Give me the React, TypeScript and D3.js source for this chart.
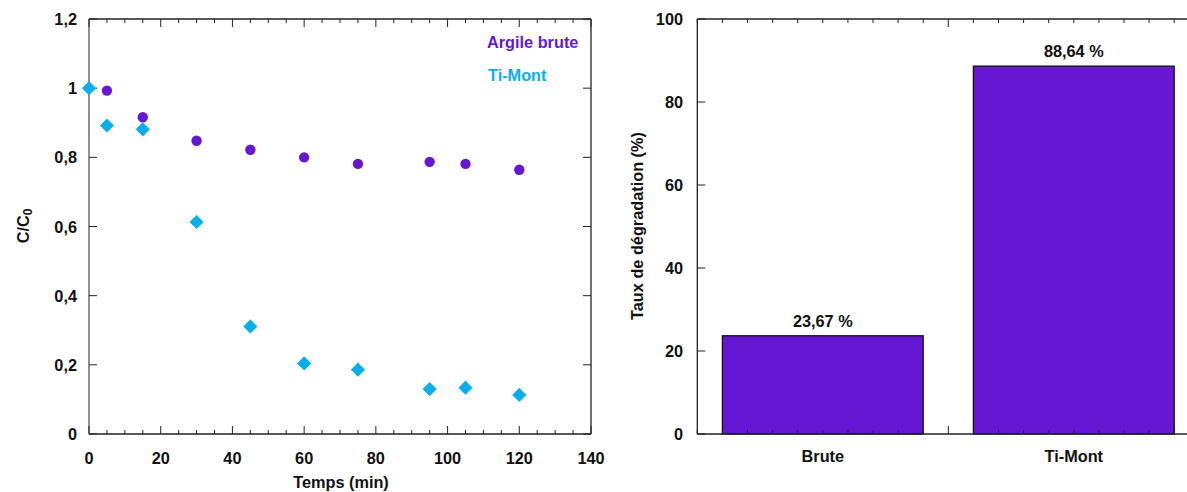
import React from "react";
import * as d3 from "d3";

const times = [0, 5, 15, 30, 45, 60, 75, 95, 105, 120];
const argileBrute = [null, 0.993, 0.916, 0.848, 0.822, 0.8, 0.781, 0.787, 0.781, 0.764];
const tiMont = [1.0, 0.892, 0.881, 0.613, 0.311, 0.204, 0.186, 0.13, 0.134, 0.113];
const leftYTicks = [0, 0.2, 0.4, 0.6, 0.8, 1, 1.2];
const leftXTicks = [0, 20, 40, 60, 80, 100, 120, 140];

const barCategories = ["Brute", "Ti-Mont"];
const barValues = [23.67, 88.64];
const barLabels = ["23,67 %", "88,64 %"];
const rightYTicks = [0, 20, 40, 60, 80, 100];

const PURPLE = "#6617d4";
const CYAN = "#0aaeea";
const FONT = "'Liberation Sans', Arial, sans-serif";
const FS = 16.3;

const fmtComma = (v: number) => String(+v.toFixed(2)).replace(".", ",");

export default function App() {
  // Left chart
  const L = { x0: 89, x1: 591, y0: 434, y1: 19 };
  const x = d3.scaleLinear().domain([0, 140]).range([L.x0, L.x1]);
  const y = d3.scaleLinear().domain([0, 1.2]).range([L.y0, L.y1]);
  const xMinor = d3.range(0, 141, 5);

  // Right chart
  const R = { x0: 697.3, x1: 1199.3, y0: 434, y1: 19 };
  const xb = d3.scaleLinear().domain([0, 20]).range([R.x0, R.x1]);
  const yb = d3.scaleLinear().domain([0, 100]).range([R.y0, R.y1]);
  const bMinor = d3.range(0, 21, 1);
  const barStart = [1, 11];
  const barWidth = 8;

  const diamond = d3.symbol().type(d3.symbolDiamond2 || d3.symbolSquare).size(128)();

  const tickText = { fontFamily: FONT, fontWeight: 700, fontSize: FS, fill: "#111" } as const;

  return (
    <svg
      width={1187}
      height={492}
      style={{ position: "absolute", left: 0, top: 0, background: "#fff" }}
    >
      {/* ---------- Left chart ---------- */}
      <g>
        <line x1={L.x0} x2={L.x1} y1={L.y1} y2={L.y1} stroke="#222" strokeWidth={1.3} />
        <line x1={L.x0} x2={L.x1} y1={L.y0} y2={L.y0} stroke="#222" strokeWidth={1.3} />
        <line x1={L.x0} x2={L.x0} y1={L.y0} y2={L.y1} stroke="#555" strokeWidth={1.3} />
        <line x1={L.x1} x2={L.x1} y1={L.y0} y2={L.y1} stroke="#222" strokeWidth={1.3} />
        {xMinor.map((t) => {
          const major = t % 20 === 0;
          const len = major ? 8 : 4;
          return (
            <g key={"xt" + t}>
              <line x1={x(t)} x2={x(t)} y1={L.y0} y2={L.y0 - len} stroke="#222" strokeWidth={1} />
              <line x1={x(t)} x2={x(t)} y1={L.y1} y2={L.y1 + len} stroke="#222" strokeWidth={1} />
            </g>
          );
        })}
        {leftXTicks.map((t) => (
          <text key={"xl" + t} x={x(t)} y={458} textAnchor="middle" dominantBaseline="central" {...tickText}>
            {t}
          </text>
        ))}
        {leftYTicks.map((t) => (
          <g key={"yt" + t}>
            <line x1={L.x0} x2={L.x0 + 8} y1={y(t)} y2={y(t)} stroke="#222" strokeWidth={1} />
            <line x1={L.x1} x2={L.x1 - 8} y1={y(t)} y2={y(t)} stroke="#222" strokeWidth={1} />
            <text x={77} y={y(t)} textAnchor="end" dominantBaseline="central" {...tickText}>
              {fmtComma(t)}
            </text>
          </g>
        ))}
        <text x={341} y={487.5} textAnchor="middle" {...tickText}>
          Temps (min)
        </text>
        <text
          transform={`translate(23,226) rotate(-90)`}
          textAnchor="middle"
          dominantBaseline="central"
          {...tickText}
        >
          C/C<tspan fontSize={12} dy={5}>0</tspan>
        </text>
        {times.map((t, i) =>
          argileBrute[i] == null ? null : (
            <circle key={"a" + i} cx={x(t)} cy={y(argileBrute[i] as number)} r={5.2} fill={PURPLE} />
          )
        )}
        {times.map((t, i) => (
          <path
            key={"b" + i}
            d={diamond as string}
            transform={`translate(${x(t)},${y(tiMont[i])})`}
            fill={CYAN}
          />
        ))}
        <text x={487} y={42} dominantBaseline="central" fontFamily={FONT} fontWeight={700} fontSize={FS} fill={PURPLE}>
          Argile brute
        </text>
        <text x={488} y={75} dominantBaseline="central" fontFamily={FONT} fontWeight={700} fontSize={FS} fill={CYAN}>
          Ti-Mont
        </text>
      </g>

      {/* ---------- Right chart ---------- */}
      <g>
        {barValues.map((v, i) => (
          <g key={"bar" + i}>
            <rect
              x={xb(barStart[i])}
              y={yb(v)}
              width={xb(barStart[i] + barWidth) - xb(barStart[i])}
              height={yb(0) - yb(v)}
              fill={PURPLE}
              stroke="#111"
              strokeWidth={1.3}
            />
            <text
              x={xb(barStart[i] + barWidth / 2)}
              y={yb(v) - 15}
              textAnchor="middle"
              dominantBaseline="central"
              {...tickText}
            >
              {barLabels[i]}
            </text>
            <text
              x={xb(barStart[i] + barWidth / 2)}
              y={456}
              textAnchor="middle"
              dominantBaseline="central"
              {...tickText}
            >
              {barCategories[i]}
            </text>
          </g>
        ))}
        <line x1={R.x0} x2={R.x1} y1={R.y1} y2={R.y1} stroke="#222" strokeWidth={1.3} />
        <line x1={R.x0} x2={R.x1} y1={R.y0} y2={R.y0} stroke="#222" strokeWidth={1.3} />
        <line x1={R.x0} x2={R.x0} y1={R.y0} y2={R.y1} stroke="#222" strokeWidth={1.3} />
        {bMinor.map((t) => {
          const major = t === 10;
          const len = major ? 8 : 4;
          return (
            <g key={"bt" + t}>
              <line x1={xb(t)} x2={xb(t)} y1={R.y0} y2={R.y0 - len} stroke="#222" strokeWidth={1} />
              <line x1={xb(t)} x2={xb(t)} y1={R.y1} y2={R.y1 + len} stroke="#222" strokeWidth={1} />
            </g>
          );
        })}
        {rightYTicks.map((t) => (
          <g key={"ry" + t}>
            <line x1={R.x0} x2={R.x0 + 8} y1={yb(t)} y2={yb(t)} stroke="#222" strokeWidth={1} />
            <text x={683} y={yb(t)} textAnchor="end" dominantBaseline="central" {...tickText}>
              {t}
            </text>
          </g>
        ))}
        <text
          transform={`translate(637,226) rotate(-90)`}
          textAnchor="middle"
          dominantBaseline="central"
          {...tickText}
        >
          Taux de dégradation (%)
        </text>
      </g>
    </svg>
  );
}
